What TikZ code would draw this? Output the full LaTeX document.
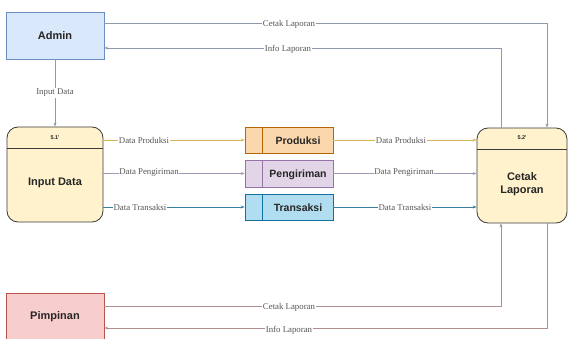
\documentclass[tikz,border=0pt]{standalone}
\usepackage{fontspec}
\setmainfont{Liberation Serif}
\newfontfamily\arialf{Liberation Sans}
\usetikzlibrary{arrows.meta,calc}
\definecolor{adminfill}{HTML}{DAE8FC}
\definecolor{admindraw}{HTML}{6C8EBF}
\definecolor{pimfill}{HTML}{F8CECC}
\definecolor{pimdraw}{HTML}{B85450}
\definecolor{procfill}{HTML}{FFF2CC}
\definecolor{procdraw}{HTML}{3A3A3A}
\definecolor{prodfill}{HTML}{FAD7AC}
\definecolor{proddraw}{HTML}{B46504}
\definecolor{pengfill}{HTML}{E1D5E7}
\definecolor{pengdraw}{HTML}{9673A6}
\definecolor{tranfill}{HTML}{B1DDF0}
\definecolor{trandraw}{HTML}{10739E}
\definecolor{aline}{HTML}{8C9BAB}
\definecolor{pline}{HTML}{AD8F8F}
\definecolor{prodline}{HTML}{D6B656}
\definecolor{pengline}{HTML}{A597B5}
\definecolor{tranline}{HTML}{3C7FA0}
\definecolor{lbl}{HTML}{555555}
\tikzset{
  ent/.style={draw, line width=0.6pt, minimum width=98pt, minimum height=47pt, inner sep=0pt,
    font=\arialf\bfseries\fontsize{11}{13}\selectfont, text=black!85},
  proc/.style={draw=procdraw, fill=procfill, line width=0.8pt, rounded corners=11pt,
    minimum width=96pt, minimum height=95pt, inner sep=0pt},
  store/.style={line width=0.6pt, minimum width=88pt, minimum height=26pt, inner sep=0pt},
  stxt/.style={font=\arialf\bfseries\fontsize{10.5}{12}\selectfont, text=black!85, inner sep=0pt},
  ptxt/.style={font=\arialf\bfseries\fontsize{11}{13.5}\selectfont, text=black!85, align=center, inner sep=0pt},
  htxt/.style={font=\arialf\bfseries\fontsize{5.5}{6}\selectfont, text=black!85, inner sep=0pt},
  elab/.style={font=\fontsize{8.8}{10}\selectfont, text=lbl, fill=white, inner sep=0.8pt},
  flow/.style={line width=0.7pt, -{Stealth[length=4pt,width=3pt]}},
}
\begin{document}
\begin{tikzpicture}[x=1pt,y=-1pt]
\useasboundingbox (0,0) rectangle (568,339);
% external entities
\node[ent, fill=adminfill, draw=admindraw] (admin) at (55,35.5) {Admin};
\node[ent, fill=pimfill, draw=pimdraw, minimum height=48pt] (pim) at (55,317) {Pimpinan};
% processes
\node[proc] (inp) at (55,174.5) {};
\coordinate (h1) at (0,148);
\draw[procdraw, line width=0.8pt] (inp.west |- h1) -- (inp.east |- h1);
\node[htxt] (inph) at (55,138) {5.1'};
\node[ptxt] (inpt) at (55,183) {Input Data};
\node[proc, minimum width=90pt] (ctk) at (522,175.5) {};
\coordinate (h2) at (0,149);
\draw[procdraw, line width=0.8pt] (ctk.west |- h2) -- (ctk.east |- h2);
\node[htxt] (ctkh) at (522,138) {5.2'};
\node[ptxt] (ctkt) at (522,184) {Cetak\\Laporan};
% data stores
\node[store, fill=prodfill, draw=proddraw] (prod) at (289,140) {};
\draw[proddraw, line width=0.6pt] ($(prod.north west)+(18,0)$) -- ($(prod.south west)+(18,0)$);
\node[stxt] (prodt) at (298,141) {Produksi};
\node[store, fill=pengfill, draw=pengdraw, minimum height=27pt] (peng) at (289,173.5) {};
\draw[pengdraw, line width=0.6pt] ($(peng.north west)+(18,0)$) -- ($(peng.south west)+(18,0)$);
\node[stxt] (pengt) at (298,174.5) {Pengiriman};
\node[store, fill=tranfill, draw=trandraw] (tran) at (289,207) {};
\draw[trandraw, line width=0.6pt] ($(tran.north west)+(18,0)$) -- ($(tran.south west)+(18,0)$);
\node[stxt] (trant) at (298,208) {Transaksi};
% coordinates for routing
\coordinate (c1) at (547,23);
\coordinate (c2) at (501,48);
\coordinate (c3) at (501,306);
\coordinate (c4) at (547,328);
% Admin <-> Cetak Laporan
\draw[flow, aline] (admin.east |- c1) -- (c1) -- (c1 |- ctk.north);
\node[elab] (l1) at (289,24) {Cetak Laporan};
\draw[flow, aline] (c2 |- ctk.north) -- (c2) -- (admin.east |- c2);
\node[elab] (l2) at (288,49) {Info Laporan};
% Admin -> Input Data
\draw[flow, aline] (admin.south) -- (inp.north);
\node[elab] (l3) at (55,93) {Input Data};
% Input -> stores
\draw[flow, prodline] (inp.east |- prod.west) -- (prod.west);
\node[elab] (l4) at (144,140) {Data Produksi};
\draw[flow, pengline] (inp.east |- peng.west) -- (peng.west);
\node[elab] (l5) at (149,172.5) {Data Pengiriman};
\draw[flow, tranline] (inp.east |- tran.west) -- (tran.west);
\node[elab] (l6) at (140,207.5) {Data Transaksi};
% stores -> Cetak
\draw[flow, prodline] (prod.east) -- (ctk.west |- prod.east);
\node[elab] (l7) at (401,140) {Data Produksi};
\draw[flow, pengline] (peng.east) -- (ctk.west |- peng.east);
\node[elab] (l8) at (404,172.5) {Data Pengiriman};
\draw[flow, tranline] (tran.east) -- (ctk.west |- tran.east);
\node[elab] (l9) at (405,207.5) {Data Transaksi};
% Pimpinan <-> Cetak
\draw[flow, pline] (pim.east |- c3) -- (c3) -- (c3 |- ctk.south);
\node[elab] (l10) at (289,307) {Cetak Laporan};
\draw[flow, pline] (c4 |- ctk.south) -- (c4) -- (pim.east |- c4);
\node[elab] (l11) at (289,330) {Info Laporan};
\end{tikzpicture}
\end{document}
